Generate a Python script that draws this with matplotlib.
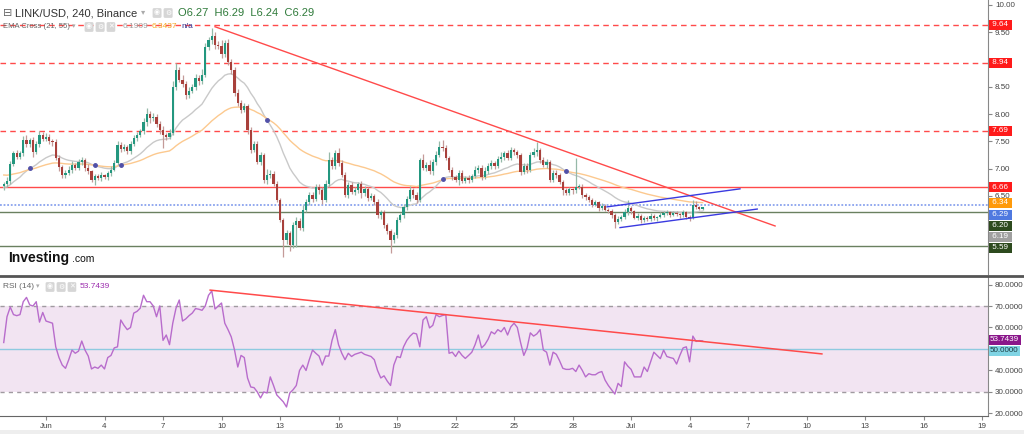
import matplotlib
matplotlib.use('Agg')
import matplotlib.pyplot as plt
import matplotlib.transforms as mtransforms
from matplotlib.lines import Line2D
import numpy as np

plt.rcParams['font.family'] = ['Liberation Sans', 'DejaVu Sans']

# 4h candles, first one = May 29 20:00
first_open = 6.68
closes = [
    6.72, 6.78, 7.09, 7.29, 7.22, 7.28,
    7.53, 7.45, 7.52, 7.30, 7.46, 7.62,
    7.55, 7.58, 7.50, 7.48, 7.20, 7.03,
    6.88, 6.92, 6.98, 7.06, 7.02, 7.12,
    7.16, 7.02, 6.95, 6.80, 6.86, 6.83,
    6.88, 6.85, 6.92, 6.98, 7.10, 7.43,
    7.36, 7.40, 7.32, 7.45, 7.56, 7.62,
    7.69, 7.85, 8.00, 7.92, 7.95, 7.82,
    7.70, 7.62, 7.58, 7.66, 8.50, 8.80,
    8.63, 8.55, 8.35, 8.42, 8.50, 8.66,
    8.60, 8.72, 9.23, 9.35, 9.43, 9.27,
    9.25, 9.10, 9.30, 8.95, 8.80, 8.38,
    8.20, 8.07, 8.15, 7.70, 7.34, 7.45,
    7.12, 7.25, 6.80, 6.88, 6.90, 6.72,
    6.43, 6.06, 5.70, 5.82, 5.60, 5.97,
    6.05, 5.92, 6.25, 6.38, 6.52, 6.45,
    6.67, 6.60, 6.43, 6.72, 7.16, 7.05,
    7.29, 7.10, 6.89, 6.52, 6.70, 6.58,
    6.60, 6.72, 6.55, 6.62, 6.46, 6.50,
    6.38, 6.15, 6.20, 5.97, 5.85, 5.70,
    5.78, 6.06, 6.15, 6.30, 6.45, 6.60,
    6.52, 6.43, 7.16, 7.02, 7.07, 6.95,
    7.12, 7.25, 7.40, 7.38, 7.20, 6.98,
    6.85, 6.80, 6.92, 6.78, 6.82, 6.80,
    6.86, 6.98, 7.02, 6.85, 6.95, 7.05,
    7.10, 7.05, 7.18, 7.22, 7.28, 7.20,
    7.34, 7.30, 7.25, 6.94, 7.05, 6.98,
    7.25, 7.30, 7.34, 7.16, 7.07, 7.12,
    6.80, 6.92, 6.89, 6.76, 6.60, 6.56,
    6.62, 6.60, 6.67, 6.67, 6.52, 6.48,
    6.43, 6.34, 6.38, 6.28, 6.32, 6.25,
    6.22, 6.15, 6.03, 6.08, 6.12, 6.20,
    6.28, 6.22, 6.10, 6.14, 6.06, 6.10,
    6.08, 6.14, 6.10, 6.12, 6.16, 6.19,
    6.20, 6.16, 6.19, 6.17, 6.15, 6.20,
    6.12, 6.10, 6.34, 6.30, 6.27, 6.29,
]
# wick lengths in cents above / below the body
up_wick = [
    4, 6, 5, 4, 6, 5,   6, 8, 5, 6, 4, 7,   5, 8, 6, 4, 6, 5,
    4, 5, 6, 8, 5, 6,   5, 4, 6, 3, 5, 4,   5, 3, 4, 6, 5, 7,
    6, 5, 4, 5, 6, 5,   4, 8, 12, 6, 7, 5,  6, 8, 4, 6, 10, 14,
    6, 8, 5, 7, 6, 8,   5, 10, 8, 6, 14, 8, 6, 10, 6, 8, 5, 6,
    8, 6, 5, 4, 6, 5,   5, 6, 4, 12, 8, 6,  5, 4, 3, 6, 4, 5,
    6, 5, 8, 6, 5, 6,   5, 4, 6, 8, 14, 6,  6, 8, 5, 4, 5, 6,
    6, 4, 5, 6, 4, 5,   4, 6, 5, 4, 3, 4,   6, 5, 4, 6, 5, 8,
    5, 6, 4, 10, 5, 8,  6, 8, 10, 12, 5, 4, 5, 4, 6, 5, 4, 6,
    5, 6, 5, 4, 8, 5,   6, 4, 5, 8, 4, 6,   6, 4, 5, 3, 6, 5,
    5, 8, 15, 4, 5, 6,  4, 6, 5, 3, 4, 5,   5, 3, 53, 5, 4, 3,
    4, 3, 4, 3, 5, 3,   3, 4, 3, 5, 4, 6,   15, 4, 3, 5, 3, 4,
    3, 4, 3, 2, 4, 3,   4, 3, 4, 3, 2, 4,   3, 4, 8, 6, 2, 1,
]
down_wick = [
    8, 5, 6, 4, 5, 4,   5, 6, 5, 8, 4, 6,   5, 4, 5, 6, 4, 8,
    6, 5, 4, 6, 5, 4,   5, 6, 4, 5, 10, 4,  5, 4, 6, 5, 3, 4,
    5, 4, 6, 5, 4, 5,   4, 5, 6, 8, 4, 5,   6, 25, 5, 4, 4, 6,
    5, 6, 8, 5, 4, 6,   6, 5, 4, 5, 6, 8,   5, 8, 6, 5, 6, 4,
    6, 5, 4, 6, 5, 4,   4, 5, 6, 8, 5, 4,   5, 4, 32, 8, 10, 6,
    40, 5, 6, 4, 5, 6,  5, 6, 8, 4, 5, 6,   5, 6, 5, 4, 6, 5,
    6, 5, 8, 6, 5, 4,   5, 6, 8, 6, 5, 24,  6, 5, 4, 6, 5, 4,
    5, 6, 4, 5, 6, 5,   6, 5, 4, 6, 5, 4,   6, 5, 10, 5, 4, 6,
    5, 4, 6, 5, 4, 5,   6, 5, 4, 5, 6, 5,   4, 5, 6, 5, 4, 6,
    5, 4, 6, 5, 4, 6,   5, 4, 6, 5, 8, 5,   4, 6, 5, 4, 5, 6,
    4, 5, 3, 5, 4, 3,   4, 5, 11, 4, 3, 4,  4, 5, 3, 4, 5, 3,
    4, 3, 4, 5, 3, 4,   3, 4, 3, 4, 5, 3,   4, 5, 3, 4, 3, 2,
]
rsi = [
    53, 65, 69.5, 66, 65.5, 66,        72, 74, 70.5, 70, 72, 62.5,
    67, 63, 62.5, 62, 51, 46,          42.5, 41, 45, 49.5, 48, 49,
    53.7, 49.5, 46.7, 40.7, 41.6, 41,  42.5, 40.7, 46, 47, 50.5, 51,
    63.5, 61, 59, 60, 66.7, 67.5,      69, 75, 72, 72, 70, 65,
    70, 54, 56.5, 52, 62, 69,          72.8, 63, 64, 65.5, 66.7, 68.8,
    68.5, 68, 70, 75, 77, 68.6,        70, 71.4, 62, 59, 55.6, 49.5,
    41.6, 47, 46, 36.5, 32.3, 32,      30, 27.2, 30, 29.5, 37, 33,
    28.6, 27, 25.4, 23, 29.5, 31,      33, 40, 42.5, 40, 45, 49.5,
    48, 46.7, 42.5, 46.7, 46.7, 54,    59, 52, 48, 45, 48, 46.5,
    47.5, 48, 48.5, 47.5, 47, 46.5,    45, 40, 36.5, 37.5, 35, 33,
    42.5, 46.5, 46, 51, 54, 56,        57.4, 57, 51, 63.5, 65, 59.8,
    61, 66, 65, 65.6, 66, 48,          48.5, 46.5, 49, 47, 45.6, 47,
    48.5, 52, 56.5, 50.5, 52, 54.5,    58, 57, 59, 58, 60, 56.5,
    60.3, 62, 60, 53, 47, 50.5,        57.5, 56, 57, 59, 49.5, 48.5,
    42.5, 48.5, 47.5, 44.5, 41, 40.5,  40.5, 41, 39.5, 42.5, 40, 37,
    38.5, 38, 38, 39, 39.5, 35.5,      33, 31, 29, 34, 32.5, 44,
    42, 40.5, 37, 37, 37, 41.6,        39.5, 44, 48.5, 47, 45.5, 49.5,
    46.5, 46, 45.6, 43, 47, 50.5,      51, 44, 56, 53.5, 53.9, 53.74,
]
ema21_seed = 6.65
ema55_seed = 6.89

levels_dashed = [9.64, 8.94, 7.69]
level_solid = 6.66
level_dotted = 6.34
levels_green = [6.20, 5.59]

trend_x, trend_y = [65, 237.3], [9.60, 5.95]
chan_up_x, chan_up_y = [185.6, 226.5], [6.30, 6.63]
chan_lo_x, chan_lo_y = [189.6, 231.8], [5.92, 6.26]
rsi_trend_x, rsi_trend_y = [63.5, 251.7], [77.4, 47.7]

date_labels = ['Jun', '4', '7', '10', '13', '16', '19', '22', '25', '28',
               'Jul', '4', '7', '10', '13', '16', '19']
date_ticks = [13 + 18 * k for k in range(len(date_labels))]


def ema(values, span, seed):
    a = 2.0 / (span + 1)
    out, prev = [], seed
    for v in values:
        prev = a * v + (1 - a) * prev
        out.append(prev)
    return np.array(out)


closes = np.array(closes)
opens = np.concatenate([[first_open], closes[:-1]])
highs = np.maximum(opens, closes) + np.array(up_wick) / 100.0
lows = np.minimum(opens, closes) - np.array(down_wick) / 100.0
idx = np.arange(len(closes))
e21 = ema(closes, 21, ema21_seed)
e55 = ema(closes, 55, ema55_seed)

fig = plt.figure(figsize=(10.24, 4.34), dpi=100)
ax = fig.add_axes([0, 1 - 274 / 434, 988 / 1024, 274 / 434])
ax2 = fig.add_axes([0, 18 / 434, 988 / 1024, 139 / 434])
xlim = (-1.15, 302.8)

# --- price panel
ax.set_xlim(*xlim)
ax.set_ylim(5.07, 10.09)
ax.plot(idx, e21, color='#c9c9c9', lw=1, zorder=2)
ax.plot(idx, e55, color='#fcc98f', lw=1, zorder=2)
d = e21 - e55
cr = np.where(np.sign(d[1:]) != np.sign(d[:-1]))[0] + 1
ax.plot(cr, e21[cr], 'o', color='#5050a8', ms=2.5, zorder=4)

up = closes >= opens
for i in idx:
    wc = '#96b9a8' if up[i] else '#c49a98'
    bc = '#23977f' if up[i] else '#a8403b'
    ax.vlines(i, lows[i], highs[i], color=wc, lw=0.9, zorder=3)
    lo, hi = min(opens[i], closes[i]), max(opens[i], closes[i])
    ax.bar(i, max(hi - lo, 0.012), bottom=lo, width=0.7, color=bc, lw=0, zorder=3)

for lv in levels_dashed:
    ax.axhline(lv, color='#ff4a4a', lw=1, ls=(0, (4, 3)), zorder=1.5)
ax.axhline(level_solid, color='#ff4a4a', lw=1, zorder=1.5)
ax.axhline(level_dotted, color='#8aa3ee', lw=1.3, ls=(0, (1, 1)), zorder=1.5)
for lv in levels_green:
    ax.axhline(lv, color='#6a8060', lw=1, zorder=1.5)
ax.plot(trend_x, trend_y, color='#ff4a4a', lw=1, zorder=5)
ax.plot(chan_up_x, chan_up_y, color='#3a3ae0', lw=1, zorder=5)
ax.plot(chan_lo_x, chan_lo_y, color='#3a3ae0', lw=1, zorder=5)

ax.yaxis.tick_right()
pticks = np.arange(5.5, 10.01, 0.5)
ax.set_yticks(pticks)
# 5.50, 6.00 and 9.00 sit under the level tags
ax.set_yticklabels(['' if v in (5.5, 6.0, 9.0) else '%.2f' % v for v in pticks])
ax.tick_params(axis='y', length=3, width=0.8, color='#888888', labelsize=5.8,
               labelcolor='#444444', pad=2)
ax.set_xticks([])
for s in ['top', 'left', 'bottom']:
    ax.spines[s].set_visible(False)
ax.spines['right'].set_color('#888888')

tr = mtransforms.blended_transform_factory(ax.transAxes, ax.transData)


def tag(a, t, y, txt, fc, tc='white'):
    a.text(1.002, y, txt, transform=t, fontsize=5.8, color=tc, va='center', ha='left',
           bbox=dict(boxstyle='square,pad=0.18', fc=fc, ec='none'), zorder=10, clip_on=False)


tag(ax, tr, 9.64, ' 9.64 ', '#ff1a1a')
tag(ax, tr, 8.94, ' 8.94 ', '#ff1a1a')
tag(ax, tr, 7.69, ' 7.69 ', '#ff1a1a')
tag(ax, tr, 6.66, ' 6.66 ', '#ff1a1a')
tag(ax, tr, 6.374, ' 6.34 ', '#ff9a0a')
tag(ax, tr, 6.158, ' 6.29 ', '#4f79e0')
tag(ax, tr, 5.952, ' 6.20 ', '#2d4a1e')
tag(ax, tr, 5.75, ' 6.19 ', '#a0a0a0')
tag(ax, tr, 5.548, ' 5.59 ', '#2d4a1e')

# header text
fig.text(3 / 1024, 1 - 13 / 434, '⊟', fontsize=8, color='#666666', va='center')
fig.text(15 / 1024, 1 - 13 / 434, 'LINK/USD, 240, Binance', fontsize=8, color='#333333', va='center')
fig.text(141 / 1024, 1 - 13 / 434, '▾', fontsize=6, color='#aaaaaa', va='center')
for k, sym in enumerate(['◉', '⚙']):
    fig.text((154 + k * 11) / 1024, 1 - 13 / 434, sym, fontsize=5, color='#ffffff', va='center',
             bbox=dict(boxstyle='round,pad=0.2', fc='#d6d6d6', ec='none'))
fig.text(178 / 1024, 1 - 13 / 434, 'O6.27  H6.29  L6.24  C6.29', fontsize=8,
         color='#2f7a3a', va='center')
fig.text(3 / 1024, 1 - 27 / 434, 'EMA Cross (21, 55)', fontsize=5.5, color='#666666', va='center')
fig.text(72 / 1024, 1 - 27 / 434, '▾', fontsize=5, color='#aaaaaa', va='center')
for k, sym in enumerate(['◉', '⚙', '✕']):
    fig.text((86 + k * 11) / 1024, 1 - 27 / 434, sym, fontsize=5, color='#ffffff', va='center',
             bbox=dict(boxstyle='round,pad=0.2', fc='#d6d6d6', ec='none'))
fig.text(123 / 1024, 1 - 27 / 434, '6.1909', fontsize=6, color='#a0a0a0', va='center')
fig.text(152 / 1024, 1 - 27 / 434, '6.3437', fontsize=6, color='#f5a623', va='center')
fig.text(181 / 1024, 1 - 27 / 434, 'n/a', fontsize=6, color='#2b2b8c', va='center')

fig.text(8 / 1024, 1 - 258 / 434, 'Investing', fontsize=10, fontweight='bold',
         color='#111111', va='center')
fig.text(72 / 1024, 1 - 259 / 434, '.com', fontsize=7.5, color='#111111', va='center')

# --- RSI panel
ax2.set_xlim(*xlim)
ax2.set_ylim(18.8, 83.5)
ax2.axhspan(30, 70, color='#f2e4f2', lw=0, zorder=0)
ax2.axhline(70, color='#a09aa0', lw=1, ls=(0, (3, 3)), zorder=1)
ax2.axhline(30, color='#a09aa0', lw=1, ls=(0, (3, 3)), zorder=1)
ax2.axhline(50, color='#8ecae0', lw=1, zorder=1)
ax2.plot(idx, rsi, color='#b86ccc', lw=1, zorder=3)
ax2.plot(rsi_trend_x, rsi_trend_y, color='#ff4a4a', lw=1.1, zorder=4)

ax2.yaxis.tick_right()
ax2.set_yticks(range(20, 81, 10))
ax2.set_yticklabels(['' if v == 50 else '%.4f' % v for v in range(20, 81, 10)])
ax2.tick_params(axis='y', length=3, width=0.8, color='#888888', labelsize=5.8,
                labelcolor='#444444', pad=2)
ax2.set_xticks(date_ticks)
ax2.set_xticklabels(date_labels)
ax2.tick_params(axis='x', length=3, width=0.8, color='#888888', labelsize=5.8,
                labelcolor='#444444', pad=2)
ax2.spines['left'].set_visible(False)
ax2.spines['top'].set_visible(False)
ax2.spines['right'].set_color('#888888')
ax2.spines['bottom'].set_color('#666666')

tr2 = mtransforms.blended_transform_factory(ax2.transAxes, ax2.transData)
tag(ax2, tr2, 54.2, '53.7439', '#8a168a')
tag(ax2, tr2, 49.2, '50.0000', '#80d4e4', '#1a3a40')

fig.text(3 / 1024, 1 - 287 / 434, 'RSI (14)', fontsize=6, color='#666666', va='center')
fig.text(36 / 1024, 1 - 287 / 434, '▾', fontsize=5, color='#aaaaaa', va='center')
for k, sym in enumerate(['◉', '⚙', '✕']):
    fig.text((47 + k * 11) / 1024, 1 - 287 / 434, sym, fontsize=5, color='#ffffff', va='center',
             bbox=dict(boxstyle='round,pad=0.2', fc='#d6d6d6', ec='none'))
fig.text(80 / 1024, 1 - 287 / 434, '53.7439', fontsize=6, color='#9c2fae', va='center')

# panel separator and bottom strip
fig.add_artist(Line2D([0, 1], [1 - 276 / 434] * 2, color='#555555', lw=2))
fig.add_artist(plt.Rectangle((0, 0), 1, 4 / 434, color='#eeeeee', lw=0))

fig.savefig('out.png', dpi=100)
